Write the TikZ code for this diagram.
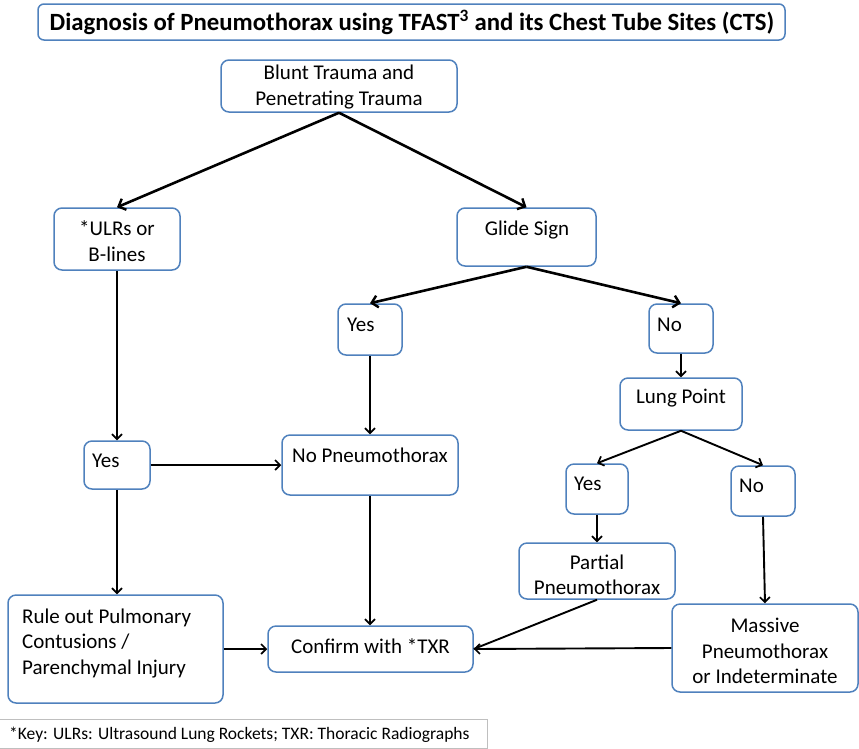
\documentclass[tikz,border=0pt]{standalone}
\usepackage{fontspec}
\setmainfont{Carlito}
\usetikzlibrary{arrows.meta}
\definecolor{boxblue}{HTML}{4F81BD}
\definecolor{keygray}{HTML}{BFBFBF}
\tikzset{
  box/.style={draw=boxblue, line width=1.5pt, rounded corners=8pt, fill=white, inner sep=0pt},
  txt/.style={font=\fontsize{21}{25.5}\selectfont, align=center, inner sep=0pt},
  ltxt/.style={font=\fontsize{21}{25.5}\selectfont, align=left, inner sep=0pt, anchor=west},
  arr/.style={line width=1.9pt, -{Straight Barb[length=5pt,width=10pt,line width=1.7pt]}},
  arrthick/.style={line width=2.6pt, -{Straight Barb[length=6pt,width=12pt,line width=2.4pt]}},
  plain/.style={line width=1.9pt}
}
\newcommand{\bx}[6][]{\node[box,#1, minimum width={(#5-#3)*1pt}, minimum height={(#6-#4)*1pt}] (#2) at ({(#3+#5)/2},{(#4+#6)/2}) {};}
\begin{document}
\begin{tikzpicture}[x=1pt,y=-1pt]
\useasboundingbox (0,0) rectangle (859,748);
% boxes
\bx[rounded corners=6pt]{title}{38}{4}{785}{40}
\node[txt, font=\fontsize{24.8}{28}\selectfont\bfseries] (title-t) at (412,22) {Diagnosis of Pneumothorax using TFAST\textsuperscript{3} and its Chest Tube Sites (CTS)};
\bx{blunt}{221}{60}{457}{112}
\node[txt] (blunt-t) at (339,87) {Blunt Trauma and\\Penetrating Trauma};
\bx{ulrs}{54}{208}{180}{270}
\node[txt] (ulrs-t) at (117,241) {*ULRs or\\B-lines};
\bx{glide}{457}{208}{596}{266}
\node[txt] (glide-t) at (527,230) {Glide Sign};
\bx{yesm}{338}{304}{402}{355}
\node[ltxt] (yesm-t) at (347,325) {Yes};
\bx{nor}{649}{304}{713}{353}
\node[ltxt] (nor-t) at (657,325) {No};
\bx{lung}{620}{378}{742}{430}
\node[txt] (lung-t) at (681,398) {Lung Point};
\bx{yesl}{84}{441}{150}{489}
\node[ltxt] (yesl-t) at (92,461) {Yes};
\bx{nopneu}{282}{435}{458}{495}
\node[txt] (nopneu-t) at (370,455) {No Pneumothorax};
\bx{yesr}{566}{464}{628}{514}
\node[ltxt] (yesr-t) at (574,484) {Yes};
\bx{nolow}{731}{466}{795}{516}
\node[ltxt] (nolow-t) at (739,486) {No};
\bx{partial}{519}{543}{675}{599}
\node[txt] (partial-t) at (597,575) {Partial\\Pneumothorax};
\bx{rule}{8}{595}{223}{703}
\node[txt, align=left, anchor=west] (rule-t) at (22,643) {Rule out Pulmonary\\Contusions /\\Parenchymal Injury};
\bx{confirm}{268}{626}{473}{672}
\node[txt] (confirm-t) at (370.5,646) {Confirm with *TXR};
\bx{massive}{672}{604}{858}{692}
\node[txt] (massive-t) at (765,651) {Massive\\Pneumothorax\\or Indeterminate};
\node[draw=keygray, line width=0.8pt, minimum width=488pt, minimum height=29pt, inner sep=0pt] (key) at (243,734) {};
\node[font=\fontsize{17.5}{20}\selectfont, anchor=west, inner sep=0pt] (key-t) at (9,735) {*Key: ULRs: Ultrasound Lung Rockets; TXR: Thoracic Radiographs};
% connectors
\draw[arrthick] (blunt.south) -- (ulrs.north);
\draw[arrthick] (blunt.south) -- (glide.north);
\draw[arrthick] (glide.south) -- (yesm.north);
\draw[arrthick] (glide.south) -- (nor.north);
\draw[arr] (ulrs.south) -- (ulrs.south |- yesl.north);
\draw[arr] (yesl.east) -- (nopneu.west |- yesl.east);
\draw[arr] (yesl.south) -- (yesl.south |- rule.north);
\draw[arr] (yesm.south) -- (yesm.south |- nopneu.north);
\draw[arr] (nopneu.south) -- (nopneu.south |- confirm.north);
\draw[arr] (nor.south) -- (lung.north);
\draw[arr] (lung.south) -- (yesr.north);
\draw[arr] (lung.south) -- (nolow.north);
\draw[arr] (yesr.south) -- (partial.north);
\draw[arr] (nolow.south) -- (massive.north);
\draw[plain] (partial.south) -- (confirm.east);
\draw[arr] (massive.west) -- (confirm.east);
\draw[arr] (rule.east) -- (confirm.west);
\end{tikzpicture}
\end{document}
